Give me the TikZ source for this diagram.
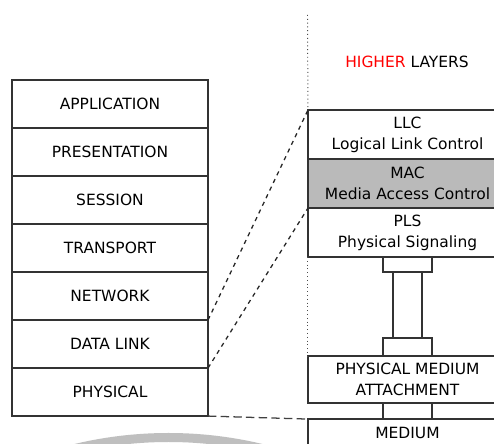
\documentclass[tikz,border=0pt]{standalone}
\usepackage{fontspec}
\setmainfont{DejaVu Sans}
\usetikzlibrary{positioning}

\tikzset{
  layer/.style={draw=black!80, line width=0.9pt, minimum width=4.9cm, minimum height=1.2cm,
    inner sep=0pt, outer sep=0pt, align=center, font=\fontsize{11}{15}\selectfont},
  sublayer/.style={layer, minimum width=4.975cm, minimum height=1.225cm},
  cablecap/.style={draw=black!80, line width=0.9pt, minimum width=1.225cm, minimum height=0.4cm,
    inner sep=0pt, outer sep=0pt},
  pillar/.style={cablecap, minimum width=0.725cm, minimum height=1.65cm},
  link/.style={dashed, line width=0.9pt, black!85},
  rail/.style={dotted, line width=0.7pt, black!70},
}

\begin{document}
\begin{tikzpicture}[x=0.025cm, y=-0.025cm]
  \clip (0,0) rectangle (494,444);
  \fill[white] (0,0) rectangle (494,444);

  % faint arc along the bottom edge
  \draw[black!25, line width=0.225cm] (168.5,836) circle[radius=398.5];

  % OSI stack
  \node[layer] (app) at (110,104) {APPLICATION};
  \node[layer, below=0pt of app] (pres) {PRESENTATION};
  \node[layer, below=0pt of pres] (session) {SESSION};
  \node[layer, below=0pt of session] (transport) {TRANSPORT};
  \node[layer, below=0pt of transport] (network) {NETWORK};
  \node[layer, below=0pt of network] (datalink) {DATA LINK};
  \node[layer, below=0pt of datalink] (physical) {PHYSICAL};

  % IEEE 802 sublayers
  \node[font=\fontsize{11}{15}\selectfont] (higher) at (407,62) {\textcolor{red}{HIGHER} LAYERS};
  \node[sublayer] (llc) at (407.5,134.5) {LLC\\Logical Link Control};
  \node[sublayer, fill=black!27, below=0pt of llc] (mac) {MAC\\Media Access Control};
  \node[sublayer, below=0pt of mac] (pls) {PLS\\Physical Signaling};

  % AUI cable down to the attachment unit
  \node[cablecap, minimum height=0.375cm, below=0pt of pls] (captop) {};
  \node[pillar, below=0pt of captop] (pillar) {};
  \node[cablecap, minimum height=0.45cm, below=0pt of pillar] (capbot) {};
  \node[sublayer, minimum height=1.175cm, below=0pt of capbot] (pma) {PHYSICAL MEDIUM\\ATTACHMENT};
  \node[cablecap, below=0pt of pma] (capmed) {};
  \node[sublayer, minimum height=0.7cm, below=0pt of capmed] (medium) {MEDIUM};

  % boundaries
  \coordinate (railtop) at (307.5,15);
  \draw[rail] (railtop) -- (llc.north west);
  \draw[rail] (pls.south west) -- (pma.north west);

  % mapping between the two stacks
  \draw[link] (network.south east) -- (llc.north west);
  \draw[link] (datalink.south east) -- (pls.north west);
  \draw[link, black!75, dash pattern=on 6pt off 3pt] (physical.south east) -- (medium.north west);
\end{tikzpicture}
\end{document}
